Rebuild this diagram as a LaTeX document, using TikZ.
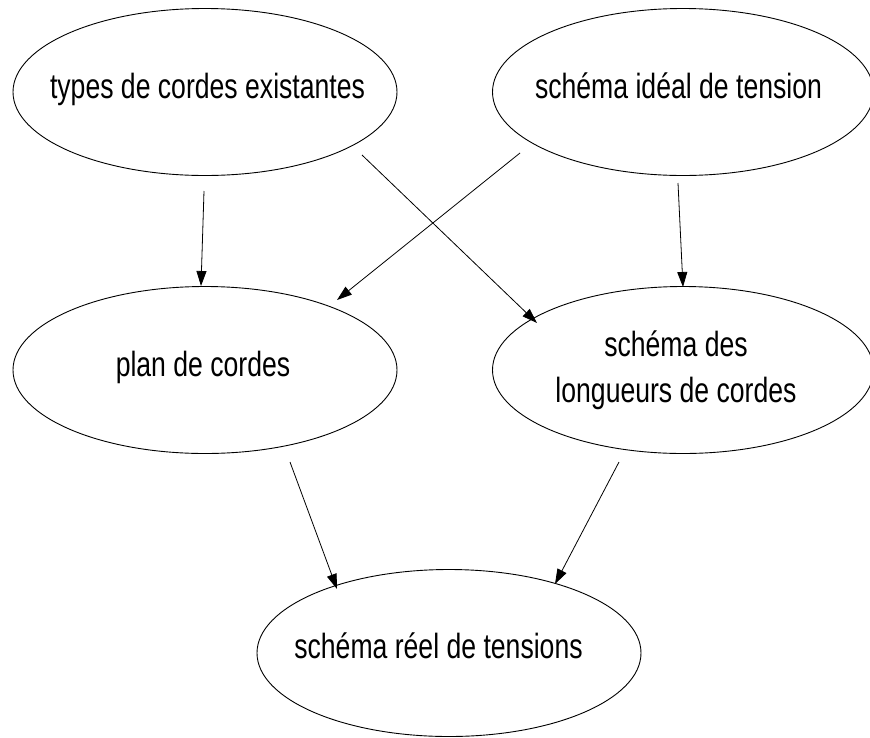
\documentclass[tikz,border=0pt]{standalone}
\usepackage{fontspec}
\setmainfont{Liberation Sans}
\newfontfamily\narrowsans[FakeStretch=0.76]{Liberation Sans}
\usetikzlibrary{shapes.geometric,arrows.meta,calc}
\begin{document}
\begin{tikzpicture}[x=1pt,y=-1pt,
  bubble/.style={draw=black,line width=0.9pt,ellipse,minimum width=384pt,minimum height=167pt,inner sep=0pt},
  label/.style={anchor=base,inner sep=0pt,font=\narrowsans\fontsize{35}{46}\selectfont,align=center},
  arr/.style={draw=black,line width=0.8pt,-{Triangle[length=15pt,width=10pt]}}]
\useasboundingbox (0,0) rectangle (870,737);
\clip (0,0) rectangle (870,737);
\node[bubble] (e1) at (205,92) {};
\node[label] (t1) at (207.5,98) {types de cordes existantes};
\node[bubble,minimum width=381pt] (e2) at (683,92) {};
\node[label] (t2) at (678.5,98) {schéma idéal de tension};
\node[bubble] (e3) at (205,370) {};
\node[label] (t3) at (203,376) {plan de cordes};
\node[bubble,minimum width=381pt] (e4) at (683,370) {};
\node[label] (t4) at (676,402.7) {schéma des\\longueurs de cordes};
\node[bubble] (e5) at (449,653) {};
\node[label] (t5) at (438.5,658) {schéma réel de tensions};
% connectors
\draw[arr] ($(e1)+(-1,99)$) -- ($(e3)+(-4,-84)$);
\draw[arr] ($(e1)+(157,63)$) -- ($(e4)+(-146,-47)$);
\draw[arr] ($(e2)+(-163,61)$) -- ($(e3)+(132,-70)$);
\draw[arr] ($(e2)+(-5,91)$) -- ($(e4)+(0,-83)$);
\draw[arr] ($(e3)+(85,92)$) -- ($(e5)+(-112,-64)$);
\draw[arr] ($(e4)+(-64,92)$) -- ($(e5)+(106,-69)$);
\end{tikzpicture}
\end{document}
